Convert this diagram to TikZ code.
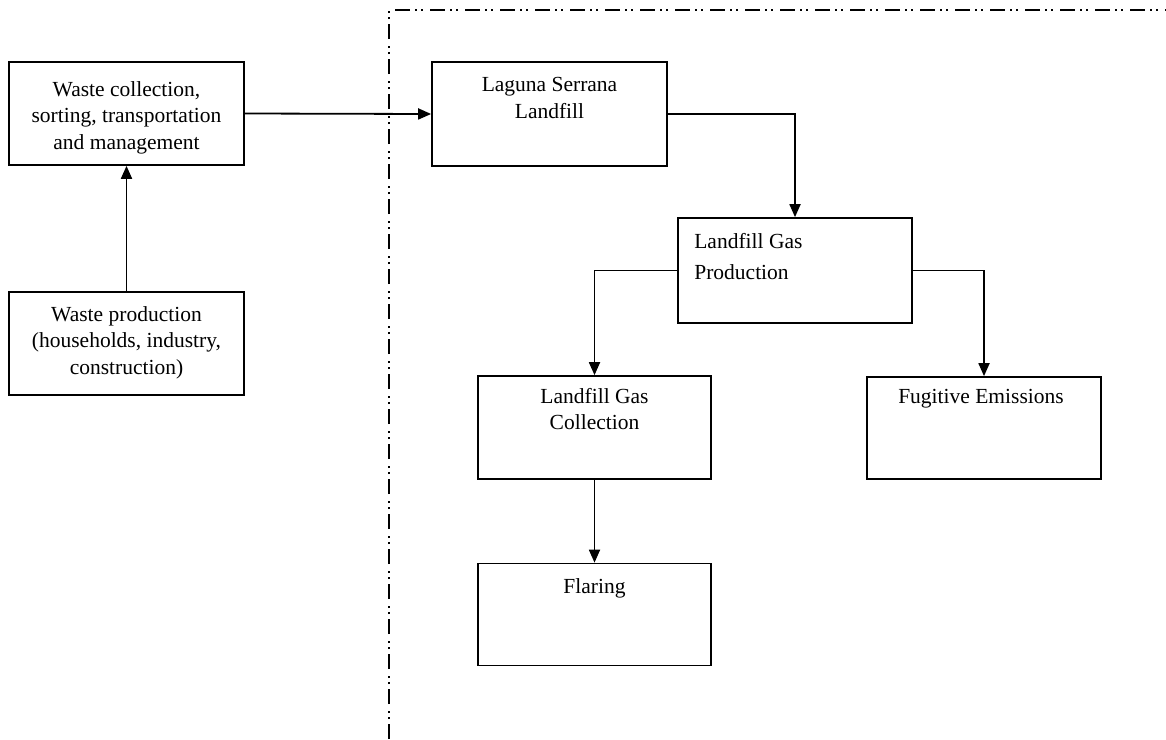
\documentclass[tikz,border=0pt]{standalone}
\usepackage{fontspec}
\setmainfont{Liberation Serif}
\usetikzlibrary{arrows.meta,calc}
\tikzset{
  box/.style={draw=black, line width=1.7pt, rectangle, inner sep=0pt},
  lbl/.style={inner sep=0pt, anchor=north, align=center, font=\fontsize{21.5}{26.5}\selectfont},
  lbll/.style={inner sep=0pt, anchor=north west, align=left, font=\fontsize{21.5}{31}\selectfont},
  conn/.style={line width=1.8pt, -{Triangle[length=13pt,width=11pt]}},
  border/.style={line width=1.4pt, dash pattern=on 15pt off 5pt on 2pt off 4pt on 2pt off 7pt}
}
\begin{document}
\begin{tikzpicture}[x=1pt,y=-1pt]
\useasboundingbox[fill=white] (0,0) rectangle (1166,739);
% dash-dot boundary
\coordinate (btop) at (389,10);
\coordinate (bbot) at (389,739);
\coordinate (bright) at (1166,10);
\draw[border] (bbot) -- (btop) -- (bright);
% boxes
\node[box, minimum width=235pt, minimum height=103pt] (wc) at (126.5,113.5) {};
\node[box, minimum width=235pt, minimum height=103pt] (wp) at (126.5,343.5) {};
\node[box, minimum width=235pt, minimum height=104pt] (lag) at (549.5,114) {};
\node[box, minimum width=234pt, minimum height=105pt] (lfgp) at (795,270.5) {};
\node[box, minimum width=233pt, minimum height=103pt] (coll) at (594.5,427.5) {};
\node[box, minimum width=234pt, minimum height=102pt] (fug) at (984,428) {};
\node[box, minimum width=233pt, minimum height=102pt] (flare) at (594.5,614.5) {};
% texts
\node[lbl] (twc) at ($(wc.north)+(0,20)$) {Waste collection,\\ sorting, transportation\\ and management};
\node[lbl] (twp) at ($(wp.north)+(0,15)$) {Waste production\\ (households, industry,\\ construction)};
\node[lbl] (tlag) at ($(lag.north)+(0,16)$) {Laguna Serrana\\ Landfill};
\node[lbll] (tlfgp) at ($(lfgp.north west)+(17,16)$) {Landfill Gas\\ Production};
\node[lbl] (tcoll) at ($(coll.north)+(0,13)$) {Landfill Gas\\ Collection};
\node[lbl] (tfug) at ($(fug.north)+(-3,13)$) {Fugitive Emissions};
\node[lbl] (tflare) at ($(flare.north)+(0,16)$) {Flaring};
% connectors
\draw[conn] (wp.north) -- (wc.south);
\draw[conn] (wc.east) -- (lag.west);
\draw[conn] (lag.east) -| (lfgp.north);
\draw[conn] (lfgp.west) -| (coll.north);
\draw[conn] (lfgp.east) -| (fug.north);
\draw[conn] (coll.south) -- (flare.north);
\end{tikzpicture}
\end{document}
